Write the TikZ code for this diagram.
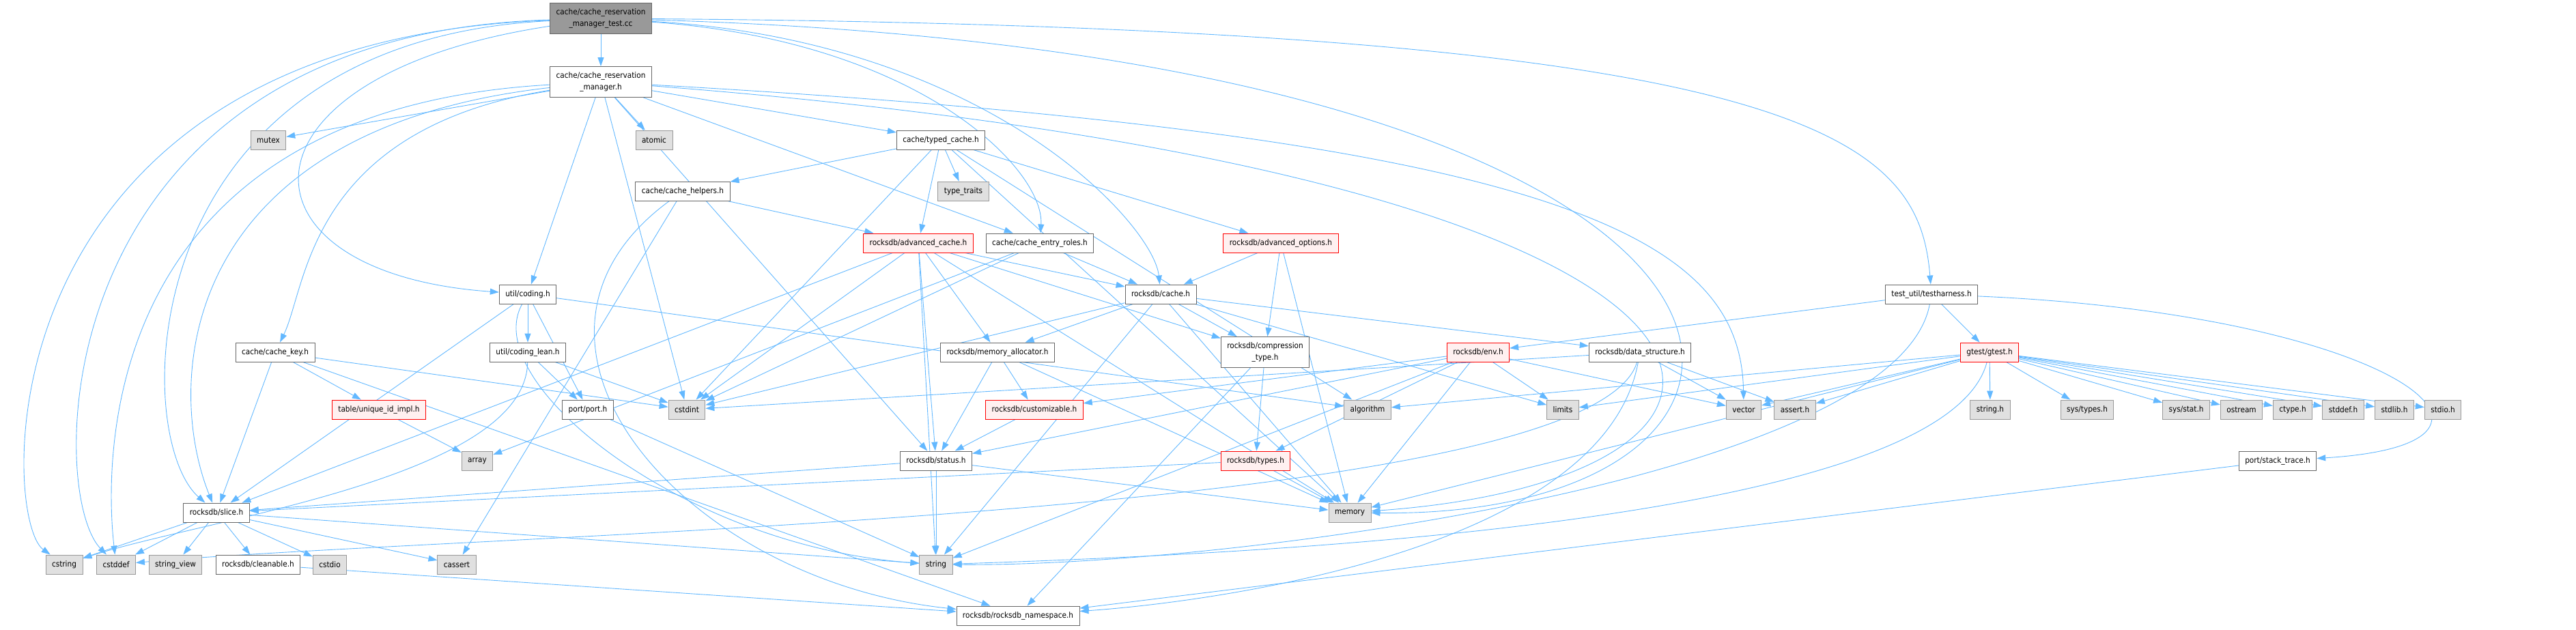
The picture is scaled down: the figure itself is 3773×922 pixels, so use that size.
\documentclass[tikz,border=0pt]{standalone}
\usepackage{fontspec}
\setmainfont{DejaVu Sans Condensed}
\usetikzlibrary{arrows.meta,backgrounds}

\definecolor{edgeblue}{HTML}{63B8FF}
\definecolor{hdrgray}{HTML}{666666}
\definecolor{sysgray}{HTML}{999999}
\definecolor{sysfill}{HTML}{E0E0E0}
\definecolor{truncred}{HTML}{FF0000}
\definecolor{truncfill}{HTML}{FFF0F0}
\definecolor{rootfill}{HTML}{999999}

\tikzset{
    hdr/.style={draw=hdrgray, fill=white, line width=0.9pt, minimum height=28pt,
        inner xsep=9pt, inner ysep=0pt, font=\fontsize{11.7}{16.7}\selectfont},
    sys/.style={hdr, draw=sysgray, fill=sysfill},
    trunc/.style={hdr, draw=truncred, fill=truncfill},
    twoline/.style={align=center, minimum height=45pt},
    root/.style={hdr, twoline, fill=rootfill},
    dep/.style={draw=edgeblue, line width=0.9pt, -{Triangle[length=13pt,width=9pt]}}
}

\begin{document}
\begin{tikzpicture}[x=1pt,y=-1pt]
\useasboundingbox (0,0) rectangle (3773,922);

% top
\node[root] (root) at (880,27) {cache/cache\_reservation\\\_manager\_test.cc};
\node[hdr,twoline] (mgr) at (880,120) {cache/cache\_reservation\\\_manager.h};

% row 205
\node[sys] (mutex) at (393,205) {mutex};
\node[sys] (atomic) at (958,205) {atomic};
\node[hdr] (typed) at (1378,205) {cache/typed\_cache.h};

% row 280
\node[hdr] (helpers) at (1000,280) {cache/cache\_helpers.h};
\node[sys] (ttraits) at (1411,280) {type\_traits};

% row 356
\node[trunc] (advcache) at (1345,356) {rocksdb/advanced\_cache.h};
\node[hdr] (roles) at (1523,356) {cache/cache\_entry\_roles.h};
\node[trunc] (advopts) at (1876,356) {rocksdb/advanced\_options.h};

% row 431
\node[hdr] (coding) at (773,431) {util/coding.h};
\node[hdr] (cacheh) at (1700,431) {rocksdb/cache.h};
\node[hdr] (harness) at (2829,431) {test\_util/testharness.h};

% row 516
\node[hdr] (cachekey) at (403,516) {cache/cache\_key.h};
\node[hdr] (codinglean) at (773,516) {util/coding\_lean.h};
\node[hdr] (memalloc) at (1461,516) {rocksdb/memory\_allocator.h};
\node[hdr,twoline] (comptype) at (1853,516) {rocksdb/compression\\\_type.h};
\node[trunc] (env) at (2165,516) {rocksdb/env.h};
\node[hdr] (datastruct) at (2402,516) {rocksdb/data\_structure.h};
\node[trunc] (gtest) at (2914,516) {gtest/gtest.h};

% row 600
\node[trunc] (uid) at (555,600) {table/unique\_id\_impl.h};
\node[hdr] (port) at (861,600) {port/port.h};
\node[sys] (cstdint) at (1006,600) {cstdint};
\node[trunc] (custom) at (1515,600) {rocksdb/customizable.h};
\node[sys] (algorithm) at (2003,600) {algorithm};
\node[sys] (limits) at (2289,600) {limits};
\node[sys] (vector) at (2554,600) {vector};
\node[sys] (asserth) at (2629,600) {assert.h};
\node[sys] (stringh) at (2915,600) {string.h};
\node[sys] (systypes) at (3057,600) {sys/types.h};
\node[sys] (sysstat) at (3202,600) {sys/stat.h};
\node[sys] (ostream) at (3283,600) {ostream};
\node[sys] (ctypeh) at (3358,600) {ctype.h};
\node[sys] (stddefh) at (3432,600) {stddef.h};
\node[sys] (stdlibh) at (3507,600) {stdlib.h};
\node[sys] (stdioh) at (3578,600) {stdio.h};

% row 675
\node[sys] (array) at (699,675) {array};
\node[hdr] (status) at (1371,675) {rocksdb/status.h};
\node[trunc] (types) at (1839,675) {rocksdb/types.h};
\node[hdr] (stacktrace) at (3336,675) {port/stack\_trace.h};

% row 751
\node[hdr] (slice) at (317,751) {rocksdb/slice.h};
\node[sys] (memory) at (1977,751) {memory};

% row 827
\node[sys] (cstring) at (94,827) {cstring};
\node[sys] (cstddef) at (170,827) {cstddef};
\node[sys] (strview) at (257,827) {string\_view};
\node[hdr] (cleanable) at (378,827) {rocksdb/cleanable.h};
\node[sys] (cstdio) at (483,827) {cstdio};
\node[sys] (cassert) at (669,827) {cassert};
\node[sys] (string) at (1371,827) {string};

% bottom
\node[hdr] (nsp) at (1491,902) {rocksdb/rocksdb\_namespace.h};

\begin{scope}[on background layer]
% long routes
\draw[dep] (root) .. controls (-30,60) and (0,760) .. (cstring);
\draw[dep] (root) .. controls (66,50) and (66,720) .. (cstddef);
\draw[dep] (root) .. controls (190,60) and (190,640) .. (slice);
\draw[dep] (root) .. controls (330,110) and (330,400) .. (coding);
\draw[dep] (root) .. controls (1350,60) and (1530,250) .. (roles);
\draw[dep] (root) .. controls (1450,60) and (1690,330) .. (cacheh);
\draw[dep] (root) .. controls (2730,80) and (2730,760) .. (memory);
\draw[dep] (root) .. controls (2650,40) and (2810,200) .. (harness);
\draw[dep] (root) -- (mgr);
\draw[dep] (mgr) .. controls (160,160) and (150,650) .. (cstddef);
\draw[dep] (mgr) .. controls (260,190) and (240,560) .. (slice);
\draw[dep] (mgr) .. controls (450,190) and (450,420) .. (cachekey);
\draw[dep] (mgr) .. controls (2690,260) and (2690,700) .. (memory);
\draw[dep] (mgr) .. controls (2300,200) and (2550,350) .. (vector);
\draw[dep] (harness) .. controls (3500,460) and (3750,650) .. (stacktrace);
\draw[dep] (harness) .. controls (2780,700) and (1800,830) .. (string);
\draw[dep] (gtest) .. controls (2850,760) and (1900,810) .. (string);
\draw[dep] (datastruct) .. controls (2330,760) and (700,780) .. (cstddef);
\draw[dep] (datastruct) .. controls (2350,800) and (1800,880) .. (nsp);
\draw[dep] (helpers) .. controls (700,500) and (1000,850) .. (nsp);
\draw[dep] (coding) .. controls (700,560) and (1000,800) .. (string);
\draw[dep] (codinglean) .. controls (770,700) and (300,760) .. (cstring);

% straight ones
\foreach \t in {mutex,atomic,typed,roles,coding,status,cstdint}
    \draw[dep] (mgr) -- (\t);
\foreach \t in {algorithm,memory,ttraits,helpers,advcache,advopts,cstdint}
    \draw[dep] (typed) -- (\t);
\foreach \t in {advcache,cassert}
    \draw[dep] (helpers) -- (\t);
\foreach \t in {algorithm,codinglean,port,slice}
    \draw[dep] (coding) -- (\t);
\foreach \t in {cstdint,port}
    \draw[dep] (codinglean) -- (\t);
\draw[dep] (port) -- (string);
\foreach \t in {cstdint,nsp,slice,uid}
    \draw[dep] (cachekey) -- (\t);
\draw[dep] (uid) -- (array);
\foreach \t in {cstdint,memory,string,cacheh,comptype,memalloc,slice,status}
    \draw[dep] (advcache) -- (\t);
\foreach \t in {array,cstdint,cacheh}
    \draw[dep] (roles) -- (\t);
\foreach \t in {cacheh,comptype,memory}
    \draw[dep] (advopts) -- (\t);
\foreach \t in {cstdint,string,memory,limits,memalloc,comptype,datastruct}
    \draw[dep] (cacheh) -- (\t);
\foreach \t in {memory,custom,status}
    \draw[dep] (memalloc) -- (\t);
\draw[dep] (custom) -- (status);
\foreach \t in {memory,string,slice}
    \draw[dep] (status) -- (\t);
\foreach \t in {types,nsp}
    \draw[dep] (comptype) -- (\t);
\foreach \t in {slice,memory}
    \draw[dep] (types) -- (\t);
\foreach \t in {custom,status,types,memory,string,limits,vector}
    \draw[dep] (env) -- (\t);
\foreach \t in {cstdint,vector,asserth}
    \draw[dep] (datastruct) -- (\t);
\foreach \t in {env,gtest}
    \draw[dep] (harness) -- (\t);
\foreach \t in {algorithm,limits,vector,asserth,memory,stringh,systypes,
        sysstat,ostream,ctypeh,stddefh,stdlibh,stdioh}
    \draw[dep] (gtest) -- (\t);
\draw[dep] (stacktrace) -- (nsp);
\foreach \t in {cassert,cstddef,cstdio,cstring,string,strview,cleanable}
    \draw[dep] (slice) -- (\t);
\draw[dep] (cleanable) -- (nsp);
\end{scope}
\end{tikzpicture}
\end{document}
